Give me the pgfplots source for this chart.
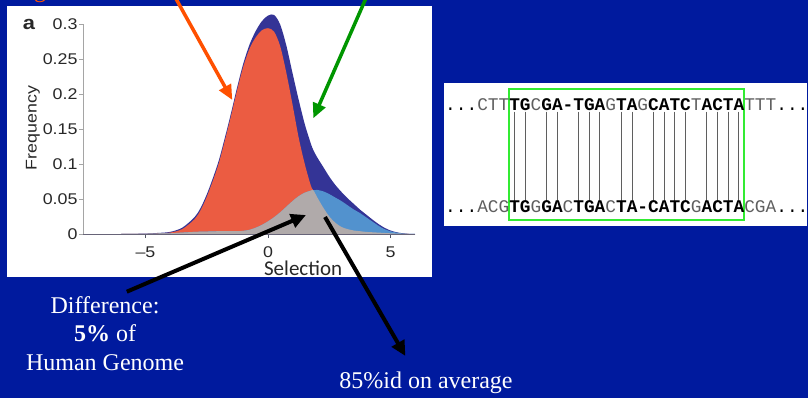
\documentclass[border=0pt]{standalone}
\usepackage{pgfplots}
\pgfplotsset{compat=1.18}
\usepackage{pgfplotstable}
\usepackage{fontspec}
\usetikzlibrary{arrows.meta}
\setmainfont{Liberation Serif}
\newfontfamily\chartfont[FakeStretch=1.15]{Liberation Sans}
\newfontfamily\selfont{Carlito}
\newfontfamily\seqfont{Liberation Mono}
\definecolor{bgblue}{RGB}{0,26,158}
\definecolor{totblue}{RGB}{52,52,150}
\definecolor{neured}{RGB}{235,92,66}
\definecolor{selblue}{RGB}{82,146,206}
\definecolor{ovgrey}{RGB}{176,170,170}
\definecolor{arrorange}{RGB}{255,80,0}
\definecolor{arrgreen}{RGB}{0,150,0}
\definecolor{boxgreen}{RGB}{50,235,50}
\definecolor{mism}{RGB}{95,95,95}
\definecolor{darktext}{RGB}{40,40,40}
\definecolor{xline}{RGB}{80,86,100}
\definecolor{yline}{RGB}{165,165,165}
\newcommand{\mt}[1]{\textbf{#1}}
\newcommand{\mm}[1]{\textcolor{mism}{#1}}

\pgfplotstableread{
x     r       b       t       g
-7.55 0       0       0       0
-6    0       0       0       0
-5    0.0003  0.0003  0.0006  0.0003
-4.5  0.0008  0.0007  0.0015  0.0007
-4    0.002   0.001   0.003   0.001
-3.5  0.007   0.002   0.009   0.002
-3    0.021   0.003   0.024   0.003
-2.75 0.034   0.0033  0.0373  0.0033
-2.5  0.053   0.0035  0.0565  0.0035
-2.25 0.076   0.0038  0.0798  0.0038
-2    0.102   0.004   0.106   0.004
-1.75 0.135   0.004   0.139   0.004
-1.5  0.170   0.004   0.174   0.004
-1.25 0.207   0.004   0.211   0.004
-1    0.240   0.0045  0.2445  0.0045
-0.75 0.265   0.006   0.271   0.006
-0.5  0.281   0.009   0.290   0.009
-0.25 0.291   0.013   0.304   0.013
0     0.294   0.018   0.312   0.018
0.25  0.289   0.024   0.313   0.024
0.5   0.268   0.031   0.299   0.031
0.75  0.230   0.039   0.269   0.039
1     0.185   0.047   0.230   0.047
1.25  0.138   0.054   0.192   0.054
1.5   0.100   0.059   0.157   0.059
1.75  0.069   0.062   0.129   0.062
1.85  0.0625  0.0625  0.120   0.0625
2     0.053   0.063   0.110   0.053
2.25  0.038   0.061   0.096   0.038
2.5   0.025   0.057   0.082   0.025
2.75  0.016   0.052   0.070   0.016
3     0.010   0.047   0.060   0.010
3.25  0.007   0.041   0.051   0.007
3.5   0.005   0.035   0.043   0.005
3.75  0.004   0.030   0.035   0.004
4     0.003   0.024   0.028   0.003
4.25  0.0025  0.018   0.021   0.0025
4.5   0.002   0.012   0.0145  0.002
4.75  0.0015  0.007   0.009   0.0015
5     0.001   0.004   0.005   0.001
5.25  0.0006  0.002   0.0025  0.0006
5.5   0.0003  0.0007  0.001   0.0003
5.75  0       0.0002  0.0002  0
6     0       0       0       0
}\dens

\begin{document}
\begin{tikzpicture}[x=1bp,y=1bp]
\useasboundingbox (0,0) rectangle (808,398);
\fill[bgblue] (0,0) rectangle (808,398);
\fill[white] (7,121) rectangle (432,392);
\fill[white] (444,172) rectangle (807,315);
\begin{axis}[
  at={(83bp,164bp)}, anchor=south west,
  scale only axis, width=332bp, height=210bp,
  xmin=-7.55, xmax=6, ymin=0, ymax=0.3,
  clip=false,
  axis x line*=bottom, axis y line*=left,
  axis line style={-},
  x axis line style={draw=xline, line width=0.8bp},
  y axis line style={draw=yline, line width=0.8bp},
  xtick={-5,0,5}, xticklabels={–5,0,5},
  ytick={0,0.05,0.1,0.15,0.2,0.25,0.3},
  yticklabels={0,0.05,0.1,0.15,0.2,0.25,0.3},
  tick align=outside, major tick length=4bp,
  tick style={draw=yline, line width=0.8bp},
  x tick style={draw=xline},
  ticklabel style={font=\chartfont\fontsize{15.5bp}{18bp}\selectfont, text=darktext},
  xticklabel style={yshift=-5bp},
  yticklabel style={xshift=2bp},
  xlabel={Selection},
  xlabel style={at={(axis description cs:0.663,-0.162)}, anchor=center, font=\selfont\fontsize{21bp}{24bp}\selectfont, text=darktext},
  ylabel={Frequency},
  ylabel style={at={(axis description cs:-0.151,0.505)}, anchor=center, rotate=0, font=\chartfont\fontsize{15.5bp}{18bp}\selectfont, text=darktext},
]
\addplot[fill=totblue, draw=none, smooth] table[x=x,y=t]{\dens} \closedcycle;
\addplot[fill=neured, draw=none, smooth] table[x=x,y=r]{\dens} \closedcycle;
\addplot[fill=selblue, draw=none, smooth] table[x=x,y=b]{\dens} \closedcycle;
\addplot[fill=ovgrey, draw=none, smooth] table[x=x,y=g]{\dens} \closedcycle;
\end{axis}
% panel letter
\node[anchor=center, font=\chartfont\bfseries\fontsize{19bp}{20bp}\selectfont, text=darktext] at (29,374) {a};
% red fragment at top
\node[anchor=base, font=\fontsize{24bp}{24bp}\selectfont, text=arrorange] at (40,400.5) {g};
% arrows
\draw[arrorange, line width=3.5bp, -{Triangle[length=15bp,width=13bp]}] (175,401) -- (232.3,298);
\draw[arrgreen, line width=3.5bp, -{Triangle[length=15bp,width=13bp]}] (366.5,401) -- (313.3,279.7);
\draw[black, line width=4bp, -{Triangle[length=15bp,width=14bp]}] (126.8,106.3) -- (306,183);
\draw[black, line width=4bp, -{Triangle[length=15bp,width=14bp]}] (325,181) -- (405.4,42);
% bottom texts
\node[anchor=base, text=white, font=\fontsize{24bp}{28bp}\selectfont, inner sep=0] at (105,84.7) {Difference:};
\node[anchor=base, text=white, font=\fontsize{24bp}{28bp}\selectfont, inner sep=0] at (105,56.3) {\textbf{5\%} of};
\node[anchor=base, text=white, font=\fontsize{24bp}{28bp}\selectfont, inner sep=0] at (105,28) {Human Genome};
\node[anchor=base, text=white, font=\fontsize{24bp}{28bp}\selectfont, inner sep=0] at (426,9.7) {85\%id on average};
% alignment
\foreach \i in {0,1,3,4,6,7,8,10,11,13,14,15,16,18,19,20,21}
  \draw[mism, line width=0.8bp] ({509.1+10.68*(\i+0.5)},286.3) -- ++(0,-90);
\draw[boxgreen, line width=1.8bp] (509.1,178) rectangle (744,309);
\node[anchor=base west, inner sep=0, font=\seqfont\fontsize{17.8bp}{20bp}\selectfont] at (445,288)
  {...\mm{CTT}\mt{TG}\mm{C}\mt{GA-TGA}\mm{G}\mt{TA}\mm{G}\mt{CATC}\mm{T}\mt{ACTA}\mm{TTT}...};
\node[anchor=base west, inner sep=0, font=\seqfont\fontsize{17.8bp}{20bp}\selectfont] at (445,185.3)
  {...\mm{ACG}\mt{TG}\mm{G}\mt{GA}\mm{C}\mt{TGA}\mm{C}\mt{TA-CATC}\mm{G}\mt{ACTA}\mm{CGA}...};
\end{tikzpicture}
\end{document}
